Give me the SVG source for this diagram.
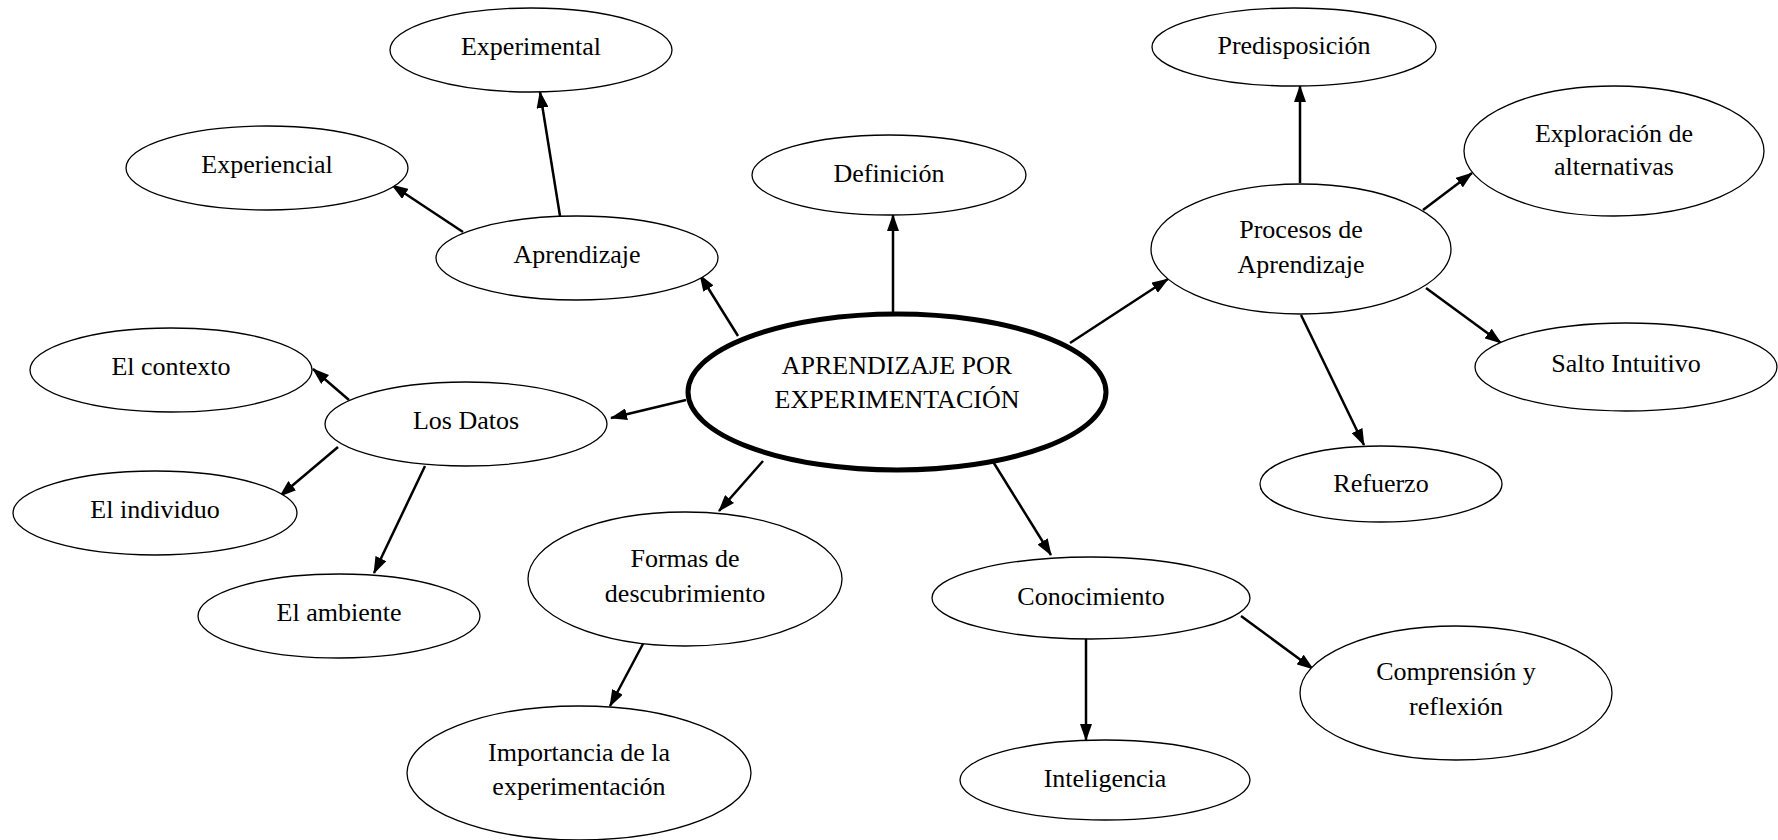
<svg xmlns="http://www.w3.org/2000/svg" width="1778" height="840" viewBox="0 0 1778 840">
<style>
.n ellipse{fill:#fff;stroke:#000;stroke-width:1.3}
.main ellipse{stroke-width:5}
text{font-size:26px;fill:#000;text-anchor:middle}
.c line{stroke:#000;stroke-width:2.5;marker-end:url(#a)}
</style>
<defs>
<marker id="a" markerUnits="userSpaceOnUse" markerWidth="17" markerHeight="12" refX="16" refY="6" orient="auto"><path d="M0,0 L17,6 L0,12 z" fill="#000"/></marker>
</defs>
<rect width="1778" height="840" fill="#fff"/>
<g font-family="Liberation Serif">
<g class="c" id="connectors">
<line x1="738" y1="336" x2="700" y2="275"/>
<line x1="560" y1="216" x2="540" y2="92"/>
<line x1="463" y1="232" x2="392" y2="185"/>
<line x1="893" y1="313" x2="893" y2="215"/>
<line x1="1070" y1="343" x2="1168" y2="279"/>
<line x1="1300" y1="183" x2="1300" y2="86"/>
<line x1="1423" y1="210" x2="1472" y2="173"/>
<line x1="1426" y1="288" x2="1501" y2="343"/>
<line x1="1301" y1="315" x2="1364" y2="445"/>
<line x1="686" y1="400" x2="611" y2="418"/>
<line x1="349" y1="400" x2="313" y2="369"/>
<line x1="338" y1="447" x2="280" y2="496"/>
<line x1="425" y1="466" x2="374" y2="573"/>
<line x1="763" y1="461" x2="719" y2="511"/>
<line x1="644" y1="642" x2="610" y2="706"/>
<line x1="992" y1="460" x2="1051" y2="555"/>
<line x1="1086" y1="638" x2="1086" y2="740"/>
<line x1="1241" y1="616" x2="1313" y2="669"/>
</g>
<g class="n main" id="n-center"><ellipse cx="897" cy="392" rx="209" ry="78"/><text x="897" y="374">APRENDIZAJE POR</text><text x="897" y="408">EXPERIMENTACIÓN</text></g>
<g class="n" id="n-experimental"><ellipse cx="531" cy="50" rx="141" ry="42"/><text x="531" y="55">Experimental</text></g>
<g class="n" id="n-experiencial"><ellipse cx="267" cy="168" rx="141" ry="42"/><text x="267" y="173">Experiencial</text></g>
<g class="n" id="n-aprendizaje"><ellipse cx="577" cy="258" rx="141" ry="42"/><text x="577" y="263">Aprendizaje</text></g>
<g class="n" id="n-definicion"><ellipse cx="889" cy="175" rx="137" ry="40"/><text x="889" y="182">Definición</text></g>
<g class="n" id="n-predisposicion"><ellipse cx="1294" cy="47" rx="142" ry="39"/><text x="1294" y="54">Predisposición</text></g>
<g class="n" id="n-exploracion"><ellipse cx="1614" cy="151" rx="150" ry="65"/><text x="1614" y="142">Exploración de</text><text x="1614" y="175">alternativas</text></g>
<g class="n" id="n-procesos"><ellipse cx="1301" cy="249" rx="150" ry="65"/><text x="1301" y="238">Procesos de</text><text x="1301" y="273">Aprendizaje</text></g>
<g class="n" id="n-salto"><ellipse cx="1626" cy="367" rx="151" ry="44"/><text x="1626" y="372">Salto Intuitivo</text></g>
<g class="n" id="n-refuerzo"><ellipse cx="1381" cy="484" rx="121" ry="38"/><text x="1381" y="492">Refuerzo</text></g>
<g class="n" id="n-contexto"><ellipse cx="171" cy="370" rx="141" ry="42"/><text x="171" y="375">El contexto</text></g>
<g class="n" id="n-datos"><ellipse cx="466" cy="424" rx="141" ry="42"/><text x="466" y="429">Los Datos</text></g>
<g class="n" id="n-individuo"><ellipse cx="155" cy="513" rx="142" ry="42"/><text x="155" y="518">El individuo</text></g>
<g class="n" id="n-ambiente"><ellipse cx="339" cy="616" rx="141" ry="42"/><text x="339" y="621">El ambiente</text></g>
<g class="n" id="n-formas"><ellipse cx="685" cy="579" rx="157" ry="67"/><text x="685" y="567">Formas de</text><text x="685" y="602">descubrimiento</text></g>
<g class="n" id="n-importancia"><ellipse cx="579" cy="773" rx="172" ry="67"/><text x="579" y="761">Importancia de la</text><text x="579" y="795">experimentación</text></g>
<g class="n" id="n-conocimiento"><ellipse cx="1091" cy="598" rx="159" ry="41"/><text x="1091" y="605">Conocimiento</text></g>
<g class="n" id="n-inteligencia"><ellipse cx="1105" cy="780" rx="145" ry="40"/><text x="1105" y="787">Inteligencia</text></g>
<g class="n" id="n-comprension"><ellipse cx="1456" cy="693" rx="156" ry="67"/><text x="1456" y="680">Comprensión y</text><text x="1456" y="715">reflexión</text></g>
</g>
</svg>
